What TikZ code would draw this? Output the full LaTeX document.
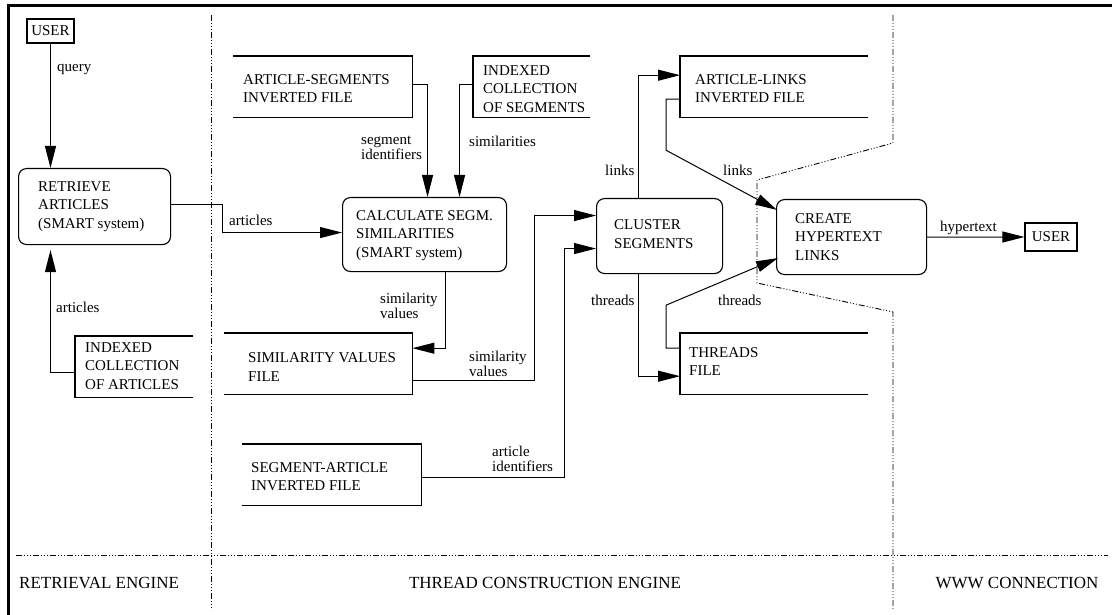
\documentclass[tikz,border=0pt]{standalone}
\usepackage{fontspec}
\setmainfont{Liberation Serif}
\usetikzlibrary{arrows.meta}
\newcommand\boxfont{\fontsize{15}{18.5}\selectfont}
\newcommand\lblfont{\fontsize{15}{14.5}\selectfont}
\newcommand\zonefont{\fontsize{17}{20}\selectfont}
\begin{document}
\begin{tikzpicture}[x=1pt,y=-1pt,
  proc/.style={draw, rounded corners=8pt, line width=1.1pt, inner sep=0pt, anchor=north west},
  store/.style={inner sep=0pt, anchor=north west},
  storeline/.style={line width=1.1pt},
  usr/.style={draw, line width=1.1pt, inner sep=0pt, font=\boxfont},
  boxtxt/.style={font=\boxfont, inner sep=0pt, align=left, anchor=west},
  lbl/.style={font=\lblfont, inner sep=0pt, align=left, anchor=west},
  zonelbl/.style={font=\zonefont, inner sep=0pt},
  flow/.style={line width=1pt, -{Triangle[length=22pt,width=11pt]}},
  zone/.style={line width=0.9pt, dash pattern=on 6pt off 2pt on 1pt off 2pt on 1pt off 2pt on 1pt off 2pt}]
\useasboundingbox (0,0) rectangle (1112,615);

% frame
\draw[line width=3pt] (8,615) -- (8,5.5) -- (1112,5.5);

% zone boundaries
\draw[zone] (211,15) -- (211,610);
\draw[zone] (16,555) -- (1108,555);
\draw[zone] (893,15) -- (893,143) -- (757,180) -- (757,283) -- (893,312) -- (893,610);

% zone names
\node[zonelbl, anchor=west] (zret) at (19,583) {RETRIEVAL ENGINE};
\node[zonelbl] (zthr) at (545,583) {THREAD CONSTRUCTION ENGINE};
\node[zonelbl] (zwww) at (1017,583) {WWW CONNECTION};

% users
\node[usr, minimum width=47pt, minimum height=24pt] (user1) at (50.5,31) {USER};
\node[usr, minimum width=52pt, minimum height=28pt] (user2) at (1051,237) {USER};

% processes
\node[proc, minimum width=152pt, minimum height=76pt] (ret) at (18,168) {};
\node[boxtxt] (ret-t) at (38,206.5) {RETRIEVE\\ARTICLES\\(SMART system)};

\node[proc, minimum width=164pt, minimum height=74pt] (calc) at (342,197) {};
\node[boxtxt] (calc-t) at (356,235.5) {CALCULATE SEGM.\\SIMILARITIES\\(SMART system)};

\node[proc, minimum width=126pt, minimum height=75pt] (cluster) at (596,198) {};
\node[boxtxt] (cluster-t) at (614,234) {CLUSTER\\SEGMENTS};

\node[proc, minimum width=150pt, minimum height=75pt] (create) at (776,199) {};
\node[boxtxt] (create-t) at (795,237) {CREATE\\HYPERTEXT\\LINKS};

% data stores (open on one side)
\node[store, minimum width=118pt, minimum height=61pt] (idxart) at (75,336) {};
\draw[storeline] (idxart.north east) -- (idxart.north west) -- (idxart.south west) -- (idxart.south east);
\node[boxtxt] (idxart-t) at (85,366) {INDEXED\\COLLECTION\\OF ARTICLES};

\node[store, minimum width=179pt, minimum height=61pt] (artseg) at (233,56) {};
\draw[storeline] (artseg.north west) -- (artseg.north east) -- (artseg.south east) -- (artseg.south west);
\node[boxtxt] (artseg-t) at (243,88.5) {ARTICLE-SEGMENTS\\INVERTED FILE};

\node[store, minimum width=117pt, minimum height=61pt] (idxseg) at (473,56) {};
\draw[storeline] (idxseg.north east) -- (idxseg.north west) -- (idxseg.south west) -- (idxseg.south east);
\node[boxtxt] (idxseg-t) at (483,89) {INDEXED\\COLLECTION\\OF SEGMENTS};

\node[store, minimum width=188pt, minimum height=61pt] (simval) at (224,333) {};
\draw[storeline] (simval.north west) -- (simval.north east) -- (simval.south east) -- (simval.south west);
\node[boxtxt] (simval-t) at (248,367) {SIMILARITY VALUES\\FILE};

\node[store, minimum width=179pt, minimum height=61pt] (segart) at (242,444) {};
\draw[storeline] (segart.north west) -- (segart.north east) -- (segart.south east) -- (segart.south west);
\node[boxtxt] (segart-t) at (251,476.5) {SEGMENT-ARTICLE\\INVERTED FILE};

\node[store, minimum width=188pt, minimum height=61pt] (artlinks) at (680,56) {};
\draw[storeline] (artlinks.north east) -- (artlinks.north west) -- (artlinks.south west) -- (artlinks.south east);
\node[boxtxt] (artlinks-t) at (695,88.5) {ARTICLE-LINKS\\INVERTED FILE};

\node[store, minimum width=188pt, minimum height=61pt] (threads) at (680,333) {};
\draw[storeline] (threads.north east) -- (threads.north west) -- (threads.south west) -- (threads.south east);
\node[boxtxt] (threads-t) at (689,361.5) {THREADS\\FILE};

% flows
\draw[flow] (user1.south) -- (user1.south |- ret.north);
\node[lbl] (l-query) at (57,70) {query};

\draw[flow, shorten >=5pt] ([yshift=-5.5pt]idxart.west) -| (user1.south |- ret.south);
\node[lbl] (l-art1) at (56,307) {articles};

\draw[flow] ([yshift=2pt]ret.east) -- ++(51,0) |- ([yshift=2pt]calc.west);
\node[lbl] (l-art2) at (229,220) {articles};

\draw[flow] ([yshift=2.5pt]artseg.east) -| ([xshift=3pt]calc.north);
\node[lbl] (l-segid) at (361,148) {segment\\identifiers};

\draw[flow] ([yshift=2.5pt]idxseg.west) -| ([xshift=35pt]calc.north);
\node[lbl] (l-sim) at (469,141) {similarities};

\draw[flow] ([xshift=21pt]calc.south) |- ([yshift=15.5pt]simval.east);
\node[lbl] (l-simv1) at (380,306) {similarity\\values};

\draw[flow] ([yshift=-16.5pt]simval.east) -- ++(122,0) |- ([yshift=20.5pt]cluster.west);
\node[lbl] (l-simv2) at (469,364) {similarity\\values};

\draw[flow] ([yshift=-2.5pt]segart.east) -- ++(143,0) |- ([yshift=-12.5pt]cluster.west);
\node[lbl] (l-artid) at (492,459) {article\\identifiers};

\draw[flow] ([xshift=-21pt]cluster.north) |- ([yshift=11.5pt]artlinks.west);
\node[lbl] (l-links1) at (605,170) {links};

\draw[flow] ([yshift=-12.5pt]artlinks.west) -- ++(-14,0) -- ++(0,51) -- ([xshift=1pt,yshift=-11pt]create.north west);
\node[lbl] (l-links2) at (723,170) {links};

\draw[flow] ([xshift=-21pt]cluster.south) |- ([yshift=-12.5pt]threads.west);
\node[lbl] (l-thr1) at (591,300) {threads};

\draw[flow] ([yshift=15.5pt]threads.west) -- ++(-14,0) -- ++(0,-43) -- ([xshift=2pt,yshift=-21pt]create.west);
\node[lbl] (l-thr2) at (718,300) {threads};

\draw[flow] (create.east) -- (user2.west);
\node[lbl] (l-hyper) at (940,228) {hypertext};
\end{tikzpicture}
\end{document}
